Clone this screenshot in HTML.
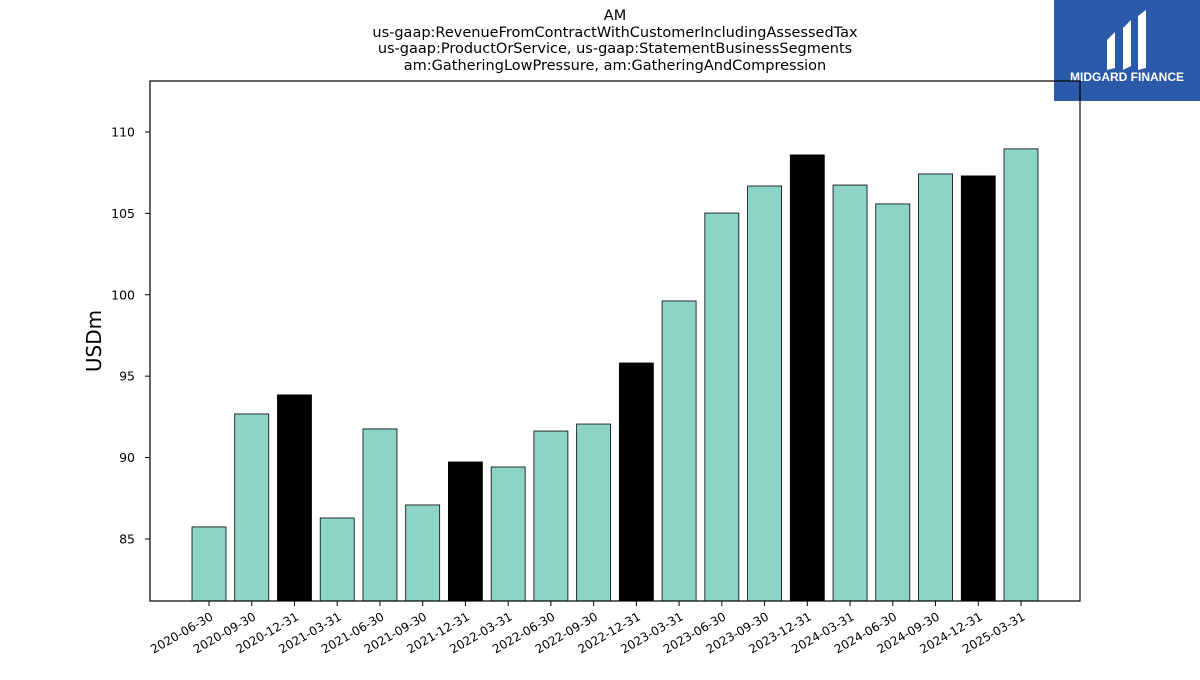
<!DOCTYPE html>
<html><head><meta charset="utf-8"><style>
body{margin:0;background:#fff;width:1200px;height:675px;overflow:hidden;font-family:"Liberation Sans","DejaVu Sans",sans-serif;}
</style></head><body>
<svg width="1200" height="675" xmlns="http://www.w3.org/2000/svg">
<g font-family="DejaVu Sans, Liberation Sans, sans-serif" font-size="14.5" text-anchor="middle" fill="#000">
<text x="615" y="20">AM</text>
<text x="615" y="37">us-gaap:RevenueFromContractWithCustomerIncludingAssessedTax</text>
<text x="615" y="53">us-gaap:ProductOrService, us-gaap:StatementBusinessSegments</text>
<text x="615" y="70">am:GatheringLowPressure, am:GatheringAndCompression</text>
</g>
<g>
<rect x="1054" y="0" width="146" height="101" fill="#2b5aab"/>
<path d="M1107 40 L1115 32 L1115 68 L1107 70 Z M1123 28 L1131 20 L1131 66 L1123 70 Z M1138 16 L1146 10 L1146 68 L1138 70 Z" fill="#fff"/>
<text x="1127" y="81" font-size="12" font-weight="bold" fill="#fff" text-anchor="middle" font-family="Liberation Sans, sans-serif">MIDGARD FINANCE</text>
</g>
<g id="bars"></g>
<g id="yaxis"></g>
<g id="xaxis"></g>
<rect x="150" y="81" width="930" height="520" fill="none" stroke="#000" stroke-width="1.2"/>
<text x="101" y="341" font-size="20" text-anchor="middle" transform="rotate(-90 101 341)" font-family="DejaVu Sans, Liberation Sans, sans-serif">USDm</text>
</svg>
<script>
const categories=["2020-06-30","2020-09-30","2020-12-31","2021-03-31","2021-06-30","2021-09-30","2021-12-31","2022-03-31","2022-06-30","2022-09-30","2022-12-31","2023-03-31","2023-06-30","2023-09-30","2023-12-31","2024-03-31","2024-06-30","2024-09-30","2024-12-31","2025-03-31"];
const values=[85.74,92.68,93.85,86.29,91.76,87.09,89.73,89.42,91.63,92.06,95.81,99.62,105.02,106.68,108.59,106.74,105.58,107.42,107.30,108.96];
const yTicks=[85,90,95,100,105,110];
const yMin=81.19,yMax=113.13,plotTop=81,plotBot=601;
const yScale=v=>plotBot-(v-yMin)/(yMax-yMin)*(plotBot-plotTop);
const xScale=i=>209+i*(1021-209)/(categories.length-1);
const NS="http://www.w3.org/2000/svg";
const mk=(t,a)=>{const e=document.createElementNS(NS,t);for(const k in a)e.setAttribute(k,a[k]);return e;};
const bars=document.getElementById('bars'),ya=document.getElementById('yaxis'),xa=document.getElementById('xaxis');
values.forEach((v,i)=>{
 const q4=categories[i].endsWith('12-31');
 const r=mk('rect',{x:xScale(i)-17,y:yScale(v),width:34,height:plotBot-yScale(v),fill:q4?'#000':'#8dd3c7',stroke:'#000','stroke-width':0.8});
 
 
 bars.appendChild(r);
});
yTicks.forEach(t=>{
 const l=mk('line',{x1:145,x2:150,y1:yScale(t),y2:yScale(t),stroke:'#000'});
 
 
 ya.appendChild(l);
 const s=mk('text',{x:135,y:yScale(t)+4.5,'font-size':12.5,'text-anchor':'end','font-family':'DejaVu Sans, Liberation Sans, sans-serif'});
 s.textContent=t;
 
 
 ya.appendChild(s);
});
categories.forEach((c,i)=>{
 const l=mk('line',{x1:xScale(i),x2:xScale(i),y1:plotBot,y2:plotBot+5,stroke:'#000'});
 
 
 xa.appendChild(l);
 const tx=xScale(i)+5,ty=plotBot+18;
 const s=mk('text',{x:tx,y:ty,'font-size':12,'text-anchor':'end','font-family':'DejaVu Sans, Liberation Sans, sans-serif',transform:`rotate(-30 ${tx} ${ty})`});
 s.textContent=c;
 
 
 xa.appendChild(s);
});
</script>
</body></html>
